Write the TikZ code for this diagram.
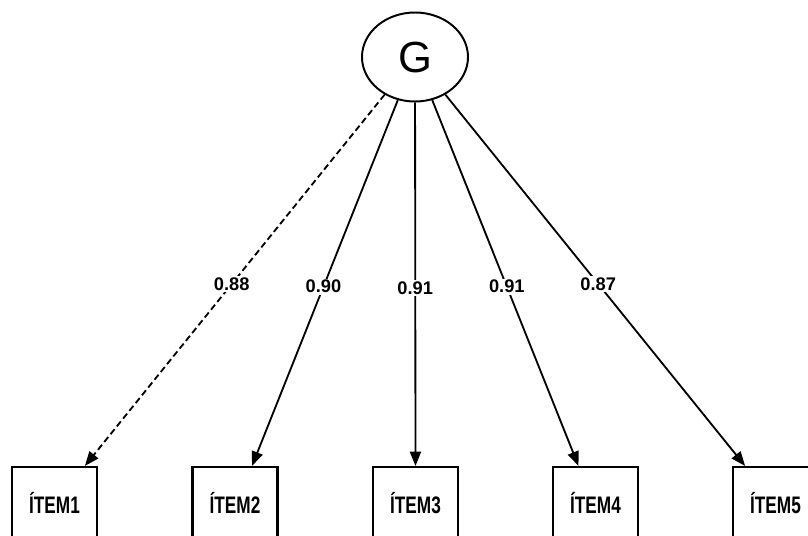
\documentclass[tikz,border=0pt]{standalone}
\usepackage{fontspec}
\setmainfont{Liberation Sans}
\newfontfamily\narrowfont[FakeStretch=0.72]{Liberation Sans}
\usetikzlibrary{arrows.meta,shapes.geometric}

\tikzstyle{latent} = [ellipse, draw, line width=1.4pt, minimum width=26.5mm, minimum height=22.25mm, inner sep=0pt, font=\fontsize{31}{31}\selectfont]
\tikzstyle{observed} = [rectangle, draw, line width=1.5pt, minimum width=21.25mm, minimum height=18mm, inner sep=0pt, font=\narrowfont\bfseries\fontsize{17}{18}\selectfont]
\tikzstyle{load} = [line width=1.3pt, -{Triangle[length=3.6mm,width=2.8mm]}]
\tikzstyle{coef} = [fill=white, inner sep=1pt, font=\bfseries\fontsize{13}{14}\selectfont]

\begin{document}
\begin{tikzpicture}[x=0.25mm, y=0.25mm]
			\useasboundingbox (0,0) rectangle (808,535);
			\clip (0,0) rectangle (808,535);
			\node[latent] (G) at (415,478) {G};
			\node[observed] (I1) at (54.5,32) {ÍTEM1};
			\node[observed] (I2) at (235,32) {ÍTEM2};
			\node[observed] (I3) at (415.5,32) {ÍTEM3};
			\node[observed] (I4) at (595.5,32) {ÍTEM4};
			\node[observed] (I5) at (775.5,32) {ÍTEM5};
			\draw [load, dash pattern=on 1.6mm off 0.9mm] (G) -- ([xshift=7.6mm]I1.north) node[coef, pos=0.51] (L1) {0.88};
			\draw [load] (G) -- ([xshift=4.25mm]I2.north) node[coef, pos=0.51] (L2) {0.90};
			\draw [load] (G) -- (I3.north) node[coef, pos=0.51] (L3) {0.91};
			\draw [load] (G) -- ([xshift=-4.25mm]I4.north) node[coef, pos=0.51] (L4) {0.91};
			\draw [load] (G) -- ([xshift=-7.6mm]I5.north) node[coef, pos=0.51] (L5) {0.87};
		\end{tikzpicture}
\end{document}
